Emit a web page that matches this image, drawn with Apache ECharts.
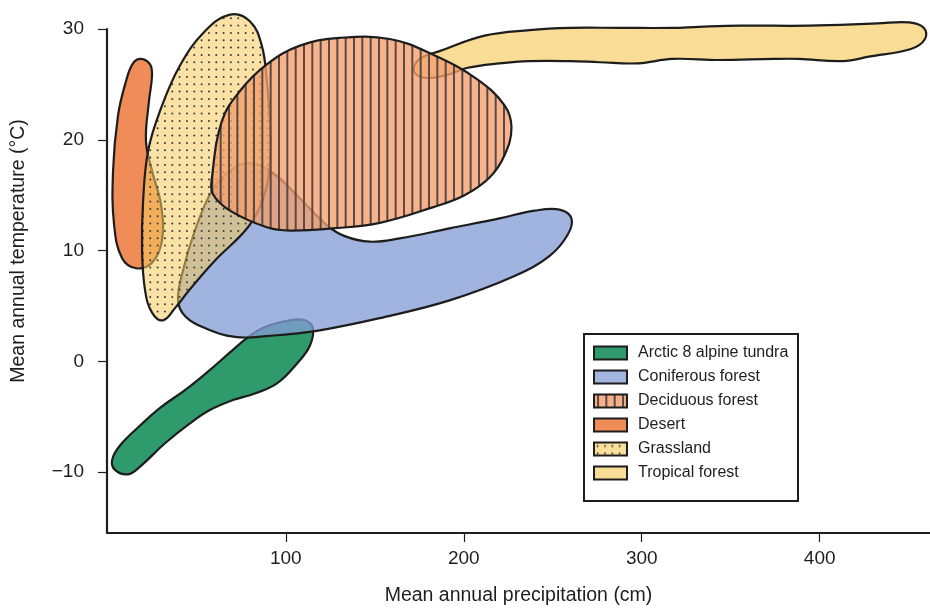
<!DOCTYPE html>
<html>
<head>
<meta charset="utf-8">
<title>Biomes: temperature vs precipitation</title>
<script src="https://cdn.jsdelivr.net/npm/echarts@6/dist/echarts.min.js"></script>
<style>
  html, body { margin: 0; padding: 0; background: #ffffff; }
  #chart { width: 930px; height: 608px; }
</style>
</head>
<body>
<div id="chart"></div>
<script>
// Axis ticks
const xTicks = [100, 200, 300, 400];
const yTicks = [-10, 0, 10, 20, 30];

// Legend order
const legendNames = ['Arctic 8 alpine tundra', 'Coniferous forest', 'Deciduous forest', 'Desert', 'Grassland', 'Tropical forest'];

// Biome outlines: [precipitation (cm), temperature (°C)]
const arcticTundra = [
  [102.3, 3.7], [110.7, 3.7], [115.2, 3.0], [113.5, 1.4], [106.8, -0.1], [95.0, -2.0],
  [82.6, -2.9], [70.2, -3.5], [57.3, -4.4], [46.1, -5.6], [32.1, -7.4], [18.1, -9.5],
  [11.3, -10.2], [4.0, -9.8], [2.4, -8.9], [6.8, -7.6], [18.1, -5.8], [29.3, -4.2],
  [43.3, -2.6], [55.7, -1.0], [68.6, 0.8], [78.1, 2.1], [88.2, 3.1]
];
const desert = [
  [18.6, 27.3], [23.7, 26.8], [24.8, 25.8], [23.1, 23.5], [21.4, 19.9], [24.8, 17.2],
  [29.9, 14.1], [30.4, 10.9], [24.8, 8.9], [15.8, 8.4], [8.0, 9.3], [3.5, 12.3],
  [2.9, 17.2], [5.7, 22.2], [10.2, 25.3], [14.1, 26.9]
];
const tropicalForest = [
  [175.2, 27.3], [186.4, 28.0], [211.7, 29.4], [236.9, 29.9], [259.9, 30.1], [287.5, 30.1],
  [317.2, 30.1], [332.3, 30.2], [355.3, 30.3], [394.0, 30.3], [432.2, 30.5], [450.2, 30.6],
  [458.6, 30.1], [459.2, 29.1], [451.3, 28.2], [427.7, 27.5], [413.1, 27.1], [388.2, 27.3],
  [374.2, 27.3], [343.4, 27.2], [317.2, 27.3], [298.1, 26.9], [276.2, 27.0], [259.9, 27.1],
  [236.9, 27.1], [220.1, 26.9], [202.2, 26.5], [189.3, 25.8], [178.0, 25.6], [171.9, 26.2]
];
const coniferousForest = [
  [79.8, 17.9], [92.7, 17.0], [107.9, 14.7], [123.0, 12.3], [133.1, 11.3], [147.1, 10.8],
  [163.9, 11.1], [192.0, 12.0], [220.1, 12.9], [239.7, 13.6], [253.8, 13.7], [260.5, 12.9],
  [258.3, 11.4], [248.1, 9.5], [228.5, 7.7], [192.0, 5.5], [152.8, 3.9], [119.1, 2.8],
  [91.0, 2.3], [71.4, 2.2], [54.5, 3.0], [43.3, 4.1], [39.4, 5.5], [42.2, 8.2],
  [48.9, 11.8], [58.5, 15.4], [68.6, 17.2]
];
const grassland = [
  [68.6, 31.3], [79.8, 30.7], [86.5, 28.5], [89.3, 25.3], [91.0, 21.7], [91.0, 17.6],
  [87.1, 14.6], [78.7, 12.1], [60.2, 9.1], [46.1, 6.5], [37.7, 4.8], [31.0, 3.7],
  [24.8, 4.4], [20.9, 6.4], [19.2, 10.0], [19.8, 14.5], [22.6, 19.0], [29.3, 22.6],
  [40.5, 26.7], [54.5, 29.8]
];
const deciduousForest = [
  [58.5, 16.6], [64.1, 21.7], [74.2, 24.4], [89.3, 26.8], [107.9, 28.5], [130.3, 29.2],
  [158.4, 29.1], [182.5, 27.7], [207.2, 25.5], [222.9, 23.1], [226.8, 21.1], [222.9, 18.6],
  [214.5, 16.6], [200.4, 15.0], [182.5, 13.9], [152.8, 12.5], [126.4, 12.0], [102.2, 11.8],
  [89.3, 12.1], [68.6, 13.6], [59.0, 15.1]
];

// Hatched fills
function stripeFill(base, ink) {
  const c = document.createElement('canvas');
  c.width = 25; c.height = 4;
  const g = c.getContext('2d');
  g.fillStyle = base; g.fillRect(0, 0, 25, 4);
  g.fillStyle = ink;
  [0, 8.333, 16.667].forEach(function (x) { g.fillRect(x + 3, 0, 2, 4); });
  return { image: c, repeat: 'repeat' };
}
function dotFill(base, ink) {
  const c = document.createElement('canvas');
  c.width = 22; c.height = 22;
  const g = c.getContext('2d');
  g.fillStyle = base; g.fillRect(0, 0, 22, 22);
  g.fillStyle = ink;
  for (let i = 0; i < 3; i++) {
    for (let j = 0; j < 3; j++) {
      g.beginPath();
      g.arc(3.6 + i * 7.333, 3.6 + j * 7.333, 1.0, 0, Math.PI * 2);
      g.fill();
    }
  }
  return { image: c, repeat: 'repeat' };
}

const OUTLINE = '#1d1d1d';
const fills = {
  'Arctic 8 alpine tundra': '#2f9a6b',
  'Coniferous forest': 'rgba(132,157,214,0.77)',
  'Deciduous forest': stripeFill('rgba(244,158,108,0.78)', '#5b4a44'),
  'Desert': '#ef8c57',
  'Grassland': dotFill('rgba(246,202,96,0.56)', '#3d3a36'),
  'Tropical forest': '#f9dc95'
};
const legendFills = {
  'Arctic 8 alpine tundra': '#2f9a6b',
  'Coniferous forest': '#a2b6e0',
  'Deciduous forest': stripeFill('#f6b18a', '#5b4a44'),
  'Desert': '#ef8c57',
  'Grassland': dotFill('#f9df9c', '#3d3a36'),
  'Tropical forest': '#f9dc95'
};

function biomeSeries(name, points, z) {
  return {
    type: 'custom',
    name: name,
    coordinateSystem: 'cartesian2d',
    data: points,
    encode: { x: 0, y: 1 },
    z: z,
    silent: true,
    animation: false,
    itemStyle: { color: legendFills[name], borderColor: OUTLINE, borderWidth: 2 },
    renderItem: function (params, api) {
      if (params.dataIndex !== 0) return null;
      const pts = points.map(function (p) { return api.coord(p); });
      return {
        type: 'polygon',
        shape: { points: pts, smooth: 0.4 },
        style: { fill: fills[name], stroke: OUTLINE, lineWidth: 2.2 }
      };
    }
  };
}

const FONT = '"Liberation Sans", Arial, Helvetica, sans-serif';
const chart = echarts.init(document.getElementById('chart'), null, { renderer: 'canvas' });

chart.setOption({
  backgroundColor: '#ffffff',
  animation: false,
  grid: { left: 107, right: 0, top: 29, bottom: 75, containLabel: false, outerBoundsMode: 'none' },
  xAxis: {
    type: 'value', min: -0.5, max: 462,
    name: 'Mean annual precipitation (cm)', nameLocation: 'middle', nameGap: 53,
    nameTextStyle: { fontFamily: FONT, fontSize: 19.5, color: '#1e1e1e' },
    axisLine: { show: true, onZero: false, lineStyle: { color: '#1e1e1e', width: 2.2 } },
    axisTick: { show: true, length: 9, lineStyle: { color: '#1e1e1e', width: 1.2 }, customValues: xTicks },
    axisLabel: { fontFamily: FONT, fontSize: 19, color: '#1e1e1e', margin: 16, customValues: xTicks },
    splitLine: { show: false }
  },
  yAxis: {
    type: 'value', min: -15.5, max: 30,
    name: 'Mean annual temperature (°C)', nameLocation: 'middle', nameGap: 78,
    nameTextStyle: { fontFamily: FONT, fontSize: 19.5, color: '#1e1e1e', padding: [0, 0, 0, 60] },
    axisLine: { show: true, onZero: false, lineStyle: { color: '#1e1e1e', width: 2.2 } },
    axisTick: { show: true, length: 9, lineStyle: { color: '#1e1e1e', width: 1.2 }, customValues: yTicks },
    axisLabel: {
      fontFamily: FONT, fontSize: 19, color: '#1e1e1e', margin: 23, customValues: yTicks,
      formatter: function (v) { return v < 0 ? '\u2212' + Math.abs(v) : String(v); }
    },
    splitLine: { show: false }
  },
  legend: {
    orient: 'vertical', left: 593, top: 345, padding: 0,
    itemWidth: 33, itemHeight: 13, itemGap: 8,
    selectedMode: false,
    textStyle: { fontFamily: FONT, fontSize: 16, color: '#1e1e1e', padding: [0, 0, 0, 6] },
    data: legendNames.map(function (n) {
      return { name: n, icon: 'rect', itemStyle: { color: legendFills[n], borderColor: OUTLINE, borderWidth: 2 } };
    })
  },
  graphic: [{
    type: 'rect', left: 583, top: 333, z: 0,
    shape: { width: 214, height: 167 },
    style: { fill: 'rgba(255,255,255,0)', stroke: OUTLINE, lineWidth: 2 }
  }],
  series: [
    biomeSeries('Arctic 8 alpine tundra', arcticTundra, 2),
    biomeSeries('Desert', desert, 3),
    biomeSeries('Tropical forest', tropicalForest, 4),
    biomeSeries('Coniferous forest', coniferousForest, 5),
    biomeSeries('Grassland', grassland, 6),
    biomeSeries('Deciduous forest', deciduousForest, 7)
  ]
});
</script>
</body>
</html>
